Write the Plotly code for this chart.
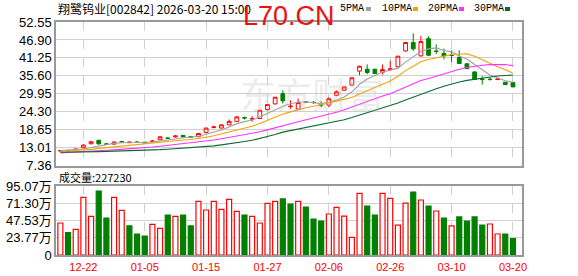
import plotly.graph_objects as go

# ---------------- data ----------------
dates = ["12-17", "12-18", "12-19", "12-22", "12-23", "12-24", "12-25", "12-26", "12-29", "12-30",
         "12-31", "01-05", "01-06", "01-07", "01-08", "01-09", "01-12", "01-13", "01-14", "01-15",
         "01-16", "01-19", "01-20", "01-21", "01-22", "01-23", "01-26", "01-27", "01-28", "01-29",
         "01-30", "02-02", "02-03", "02-04", "02-05", "02-06", "02-09", "02-10", "02-11", "02-12",
         "02-13", "02-24", "02-25", "02-26", "02-27", "03-02", "03-03", "03-04", "03-05", "03-06",
         "03-09", "03-10", "03-11", "03-12", "03-13", "03-16", "03-17", "03-18", "03-19", "03-20"]

opens = [12.0, 12.05, 12.4, 13.0, 14.25, 15.35, 14.2, 14.15, 14.95, 14.6,
         14.8, 14.7, 14.9, 15.5, 16.05, 16.4, 16.9, 16.5, 16.45, 17.8,
         19.35, 19.2, 20.2, 21.3, 22.5, 22.0, 22.2, 25.0, 26.8, 30.0,
         25.95, 25.15, 27.5, 27.3, 26.55, 26.4, 29.5, 31.1, 32.7, 37.1,
         37.7, 37.7, 36.75, 37.6, 38.45, 43.45, 46.1, 41.9, 47.3, 43.4,
         42.7, 42.15, 41.4, 39.4, 36.85, 34.55, 34.55, 34.45, 33.6, 33.5]
highs = [12.3, 12.3, 12.7, 14.1, 15.1, 15.5, 14.5, 15.0, 15.2, 14.9,
         14.95, 14.9, 15.4, 16.6, 16.3, 17.0, 17.0, 16.7, 17.6, 19.3,
         19.9, 20.4, 21.9, 23.0, 22.8, 22.95, 24.9, 26.7, 29.0, 31.1,
         27.95, 28.5, 27.7, 27.7, 27.65, 28.85, 31.0, 32.3, 35.1, 38.8,
         39.2, 37.8, 39.2, 40.4, 41.9, 46.3, 49.0, 48.2, 48.05, 45.55,
         44.2, 43.65, 43.65, 39.6, 37.0, 35.5, 35.2, 34.8, 33.7, 33.6]
lows = [11.9, 11.9, 12.2, 12.9, 14.1, 13.9, 13.9, 14.0, 14.7, 14.5,
        14.5, 14.4, 14.8, 15.4, 15.8, 16.2, 16.3, 16.2, 16.4, 17.7,
        19.1, 19.1, 20.1, 21.1, 21.9, 21.2, 22.1, 24.7, 26.6, 26.9,
        25.25, 25.0, 27.1, 26.9, 25.7, 25.7, 29.2, 31.0, 32.6, 35.8,
        36.1, 36.2, 36.0, 37.2, 38.3, 43.3, 43.45, 41.7, 41.8, 42.4,
        40.8, 40.0, 39.4, 37.7, 34.4, 32.9, 34.2, 34.3, 32.8, 32.0]
closes = [12.1, 12.15, 12.55, 13.85, 14.9, 14.25, 14.1, 14.8, 14.85, 14.75,
          14.7, 14.55, 15.1, 16.45, 15.95, 16.7, 16.45, 16.4, 17.5, 19.2,
          19.55, 20.2, 21.3, 22.7, 22.35, 22.2, 24.8, 26.6, 28.9, 27.75,
          26.05, 27.25, 27.4, 27.2, 26.45, 28.4, 30.6, 32.15, 35.0, 38.65,
          36.65, 36.35, 37.6, 37.8, 41.8, 46.1, 44.1, 46.4, 42.1, 43.3,
          41.9, 42.05, 39.5, 37.9, 34.5, 34.45, 34.45, 34.6, 32.9, 32.15]

ma5 = [12.1, 12.2, 12.35, 12.6, 13.11, 13.54, 13.93, 14.38, 14.58, 14.55,
       14.64, 14.73, 14.79, 15.11, 15.35, 15.75, 16.13, 16.39, 16.6, 17.25,
       17.82, 18.57, 19.55, 20.59, 21.22, 21.75, 22.67, 23.73, 24.97, 26.05,
       26.82, 27.31, 27.47, 27.13, 26.87, 27.34, 28.01, 28.96, 30.52, 32.96,
       34.61, 35.76, 36.85, 37.41, 38.04, 39.93, 41.48, 43.24, 44.1, 44.4,
       43.56, 43.15, 41.77, 40.93, 39.17, 37.4, 35.9, 35.0, 34.1, 33.6]
ma10 = [11.9, 12.0, 12.1, 12.3, 12.5, 12.8, 13.05, 13.3, 13.55, 13.83,
        14.09, 14.33, 14.59, 14.85, 14.95, 15.2, 15.43, 15.59, 15.86, 16.3,
        16.79, 17.35, 17.97, 18.6, 19.24, 19.79, 20.62, 21.64, 22.78, 23.64,
        24.29, 24.99, 25.6, 26.05, 26.46, 27.08, 27.66, 28.22, 28.83, 29.92,
        30.98, 31.89, 32.91, 33.97, 35.5, 37.27, 38.62, 40.05, 40.76, 41.22,
        41.75, 42.32, 42.51, 42.52, 41.79, 40.62, 39.66, 38.48, 37.56, 36.44]
ma20 = [11.4, 11.5, 11.6, 11.75, 11.9, 12.05, 12.2, 12.35, 12.5, 12.65,
        12.85, 13.05, 13.25, 13.5, 13.75, 14.0, 14.25, 14.5, 14.8, 15.07,
        15.44, 15.84, 16.28, 16.72, 17.09, 17.49, 18.03, 18.62, 19.32, 19.97,
        20.54, 21.17, 21.79, 22.32, 22.85, 23.43, 24.14, 24.93, 25.8, 26.78,
        27.63, 28.44, 29.25, 30.01, 30.98, 32.18, 33.14, 34.13, 34.79, 35.57,
        36.36, 37.1, 37.71, 38.24, 38.64, 38.95, 39.14, 39.26, 39.16, 38.83]
ma30 = [11.6, 11.6, 11.65, 11.7, 11.75, 11.8, 11.85, 11.9, 11.95, 12.0,
        12.1, 12.2, 12.3, 12.4, 12.55, 12.7, 12.85, 13.0, 13.15, 13.35,
        13.6, 13.9, 14.2, 14.55, 14.95, 15.35, 15.9, 16.5, 17.2, 17.92,
        18.39, 18.89, 19.39, 19.83, 20.22, 20.69, 21.24, 21.82, 22.49, 23.28,
        24.02, 24.74, 25.49, 26.2, 27.07, 28.05, 28.97, 29.97, 30.79, 31.59,
        32.34, 33.06, 33.67, 34.18, 34.58, 34.99, 35.31, 35.58, 35.71, 35.86]

# volume in 万 (10k)
volumes = [44.1, 30.7, 35.4, 79.5, 53.3, 88.2, 51.0, 79.5, 61.6, 40.0,
           28.9, 26.2, 42.3, 36.8, 55.1, 53.3, 55.1, 40.0, 74.0, 62.0,
           74.0, 63.0, 76.7, 60.2, 55.1, 53.3, 44.1, 71.2, 74.0, 77.2,
           70.3, 74.0, 66.1, 49.6, 46.8, 56.5, 65.7, 53.7, 24.4, 85.0,
           67.5, 55.1, 85.0, 78.1, 41.3, 71.6, 86.8, 75.8, 67.5, 60.6,
           51.0, 40.0, 52.4, 46.8, 52.4, 41.3, 42.7, 28.9, 28.9, 22.723]
vol_up = [1, 0, 1, 1, 1, 0, 0, 1, 1, 0,
          0, 0, 1, 1, 0, 1, 0, 0, 1, 1,
          1, 1, 1, 1, 0, 1, 1, 1, 1, 0,
          0, 1, 0, 0, 0, 1, 1, 1, 1, 1,
          0, 0, 1, 1, 1, 1, 0, 1, 0, 1,
          0, 1, 0, 0, 0, 0, 1, 1, 0, 0]

price_ticks = [7.36, 13.01, 18.65, 24.30, 29.95, 35.60, 41.25, 46.90, 52.55]
vol_ticks = [0, 23.77, 47.53, 71.30, 95.07]
vol_tick_text = ["0", "23.77万", "47.53万", "71.30万", "95.07万"]
date_ticks = ["12-22", "01-05", "01-15", "01-27", "02-06", "02-26", "03-10", "03-20"]

title_text = "翔鹭钨业[002842] 2026-03-20 15:00"
ma_names = ["5PMA", "10PMA", "20PMA", "30PMA"]

# ---------------- style ----------------
W, H = 578, 276
L, R, T, B = 56, 56, 22, 21
PW, PH = W - L - R, H - T - B
RED, GREEN = "#ff0000", "#008000"
MA_COLORS = ["#a0a0a0", "#f5a300", "#ff30ff", "#0b6b2f"]
GRID = "#d0d0d0"
FRAME = "#999999"


def pxx(x):
    return (x - L) / PW


def pxy(y):
    return (H - B - y) / PH


fig = go.Figure()

fig.add_trace(go.Candlestick(
    x=dates, open=opens, high=highs, low=lows, close=closes,
    increasing=dict(line=dict(color=RED, width=1), fillcolor="#ffffff"),
    decreasing=dict(line=dict(color=GREEN, width=1), fillcolor=GREEN),
    whiskerwidth=0, xaxis="x", yaxis="y", hoverinfo="skip", showlegend=False))

for vals, col in zip([ma5, ma10, ma20, ma30], MA_COLORS):
    fig.add_trace(go.Scatter(x=dates, y=vals, mode="lines",
                             line=dict(color=col, width=1.1),
                             xaxis="x", yaxis="y", hoverinfo="skip", showlegend=False))

fig.add_trace(go.Bar(
    x=dates, y=volumes,
    marker=dict(color=["#ffffff" if u else GREEN for u in vol_up],
                line=dict(color=[RED if u else GREEN for u in vol_up], width=1.2)),
    xaxis="x2", yaxis="y2", hoverinfo="skip", showlegend=False))

xr = [-0.57, len(dates) - 1 + 1.18]
common_x = dict(type="category", range=xr, tickvals=date_ticks, showgrid=True,
                gridcolor=GRID, griddash="dash", gridwidth=1, showline=True,
                mirror=True, linecolor=FRAME, linewidth=1.5, ticks="", zeroline=False,
                fixedrange=True, automargin=False)

fig.update_layout(
    width=W, height=H, margin=dict(l=L, r=R, t=T, b=B, autoexpand=False),
    paper_bgcolor="white", plot_bgcolor="white",
    bargap=0.35, boxgap=0.3, showlegend=False,
    font=dict(family="Liberation Sans, Arial, Noto Sans CJK SC", color="#000"),
    xaxis=dict(**common_x, anchor="y", showticklabels=False,
               rangeslider=dict(visible=False)),
    xaxis2=dict(**common_x, anchor="y2", matches="x", showticklabels=True,
                ticklabelstandoff=1, rangeslider=dict(visible=False),
                tickfont=dict(size=11, color=RED, family="Liberation Sans, Arial")),
    yaxis=dict(domain=[pxy(165.7), 1], range=[price_ticks[0], price_ticks[-1]],
               tickvals=price_ticks, ticktext=[f"{v:.2f}" for v in price_ticks],
               showgrid=True, gridcolor=GRID, gridwidth=1, zeroline=False,
               showline=True, mirror=True, linecolor=FRAME, linewidth=1.5,
               automargin=False,
               ticks="", tickfont=dict(size=13, color="#000"), anchor="x"),
    yaxis2=dict(domain=[0, pxy(186)], range=[0, vol_ticks[-1]],
                tickvals=vol_ticks, ticktext=vol_tick_text,
                showgrid=True, gridcolor=GRID, gridwidth=1, zeroline=False,
                showline=True, mirror=True, linecolor=FRAME, linewidth=1.5,
                automargin=False,
                ticks="", tickfont=dict(size=13, color="#000"), anchor="x2"),
)

ann = []
# watermark
ann.append(dict(text="东方财富", x=pxx(312), y=pxy(93), xref="paper", yref="paper",
                xanchor="center", yanchor="middle",
                showarrow=False, font=dict(size=36, color="rgba(185,185,185,0.28)",
                                           family="Noto Sans CJK SC")))
# title
ann.append(dict(text=title_text, x=0, y=pxy(9), xref="paper", yref="paper",
                xanchor="left", yanchor="middle", showarrow=False,
                font=dict(size=12, color="#000", family="Noto Sans CJK SC")))
# L70.CN
ann.append(dict(text="L70.CN", x=pxx(241), y=pxy(16), xref="paper", yref="paper",
                xanchor="left", yanchor="middle", showarrow=False,
                font=dict(size=27, color="#ee1111", family="Liberation Sans, Arial")))
# legend
leg_x = [338, 380, 425.5, 471.5]
sq_x = [366, 413, 459, 505]
shapes = []
for name, lx, sx, col in zip(ma_names, leg_x, sq_x, MA_COLORS):
    ann.append(dict(text=name, x=pxx(lx), y=pxy(9), xref="paper", yref="paper",
                    xanchor="left", yanchor="middle", showarrow=False,
                    font=dict(size=10, color="#000", family="Liberation Mono")))
    shapes.append(dict(type="rect", xref="paper", yref="paper",
                       x0=pxx(sx), x1=pxx(sx + 5), y0=pxy(11), y1=pxy(7),
                       fillcolor=col, line=dict(width=0)))
# volume label
ann.append(dict(text=f"成交量:{int(round(volumes[-1] * 10000))}", x=pxx(57), y=pxy(177),
                xref="paper", yref="paper", xanchor="left", yanchor="middle",
                showarrow=False, font=dict(size=11, color="#000", family="Noto Sans CJK SC")))

fig.update_layout(annotations=ann, shapes=shapes)

fig.write_html("out.html")
